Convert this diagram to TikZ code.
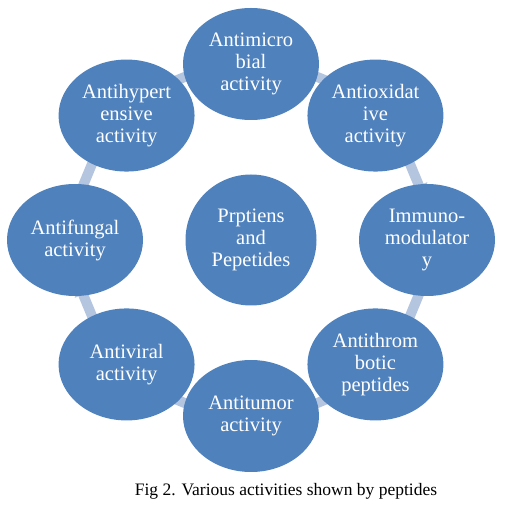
\documentclass[tikz,border=0pt]{standalone}
\usepackage{fontspec}
\setmainfont{Liberation Serif}
\usetikzlibrary{shapes.geometric,calc,backgrounds}
\definecolor{nodeblue}{HTML}{4F81BD}
\definecolor{arrowblue}{HTML}{B4C5E0}
\tikzset{
  item/.style={ellipse, fill=nodeblue, draw=none, minimum width=136pt, minimum height=112pt,
    inner sep=0pt, text=white, align=center, font=\fontsize{20.5}{22}\selectfont},
  hub/.style={circle, fill=nodeblue, draw=none, minimum size=131pt, inner sep=0pt,
    text=white, align=center, font=\fontsize{20.5}{22}\selectfont},
  cycarrow/.style={fill=arrowblue, draw=none},
}
\begin{document}
\begin{tikzpicture}[x=1pt,y=1pt]
\useasboundingbox (0,0) rectangle (509,525);
\coordinate (c) at (251,285);
\node[hub] (hub) at (c) {Prptiens\\and\\Pepetides};
\node[item] (n1) at ($(c)+(90:176)$) {Antimicro\\bial\\activity};
\node[item] (n2) at ($(c)+(45:176)$) {Antioxidat\\ive\\activity};
\node[item] (n3) at ($(c)+(0:176)$) {Immuno-\\modulator\\y};
\node[item] (n4) at ($(c)+(-45:176)$) {Antithrom\\botic\\peptides};
\node[item] (n5) at ($(c)+(-90:176)$) {Antitumor\\activity};
\node[item] (n6) at ($(c)+(-135:176)$) {Antiviral\\activity};
\node[item] (n7) at ($(c)+(180:176)$) {Antifungal\\activity};
\node[item] (n8) at ($(c)+(135:176)$) {Antihypert\\ensive\\activity};
\begin{scope}[on background layer]
\foreach \p in {67.5,22.5,-22.5,-67.5,-112.5,-157.5,157.5,112.5} {
  \fill[cycarrow, shift={($(c)+(\p:176)$)}, rotate=\p-90]
    (-30,-5) -- (14,-5) -- (14,-9) -- (28,0) -- (14,9) -- (14,5) -- (-30,5) -- cycle;
}
\end{scope}
\node[font=\fontsize{17.5}{20}\selectfont, anchor=base] (cap) at (286,29) {Fig 2. Various activities shown by peptides};
\end{tikzpicture}
\end{document}
